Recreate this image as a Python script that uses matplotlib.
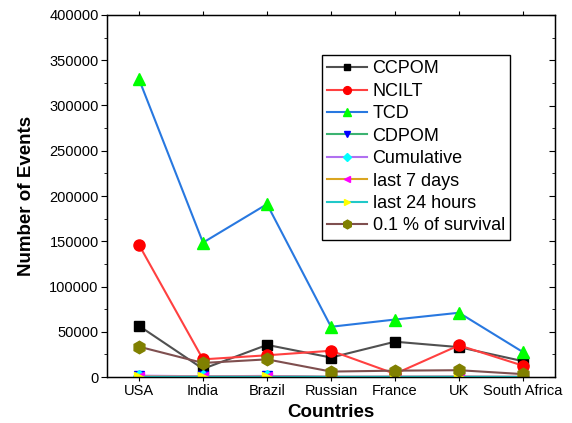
import matplotlib.pyplot as plt
from matplotlib.ticker import MultipleLocator

plt.rcParams['font.family'] = ['Liberation Sans', 'DejaVu Sans']

countries = ['USA', 'India', 'Brazil', 'Russian', 'France', 'UK', 'South Africa']

ccpom = [56500, 9000, 35500, 21500, 39000, 33000, 17500]
ncilt = [146000, 19500, 24000, 29000, 3500, 35000, 12500]
tcd = [329000, 148500, 191000, 55500, 63500, 71000, 27500]
cdpom = [1000, 600, 900, 200, 300, 400, 100]
cumulative = [1500, 800, 1200, 300, 400, 500, 150]
last_7_days = [500, 300, 400, 100, 100, 150, 50]
last_24_hours = [80, 50, 60, 20, 20, 25, 10]
survival = [33500, 15500, 19500, 6000, 7000, 7500, 3200]

x = list(range(len(countries)))

fig = plt.figure(figsize=(5.72, 4.23), dpi=100)
ax = fig.add_axes([107 / 572, 46 / 423, 448 / 572, 362 / 423])

ms = 7
ax.plot(x, ccpom, color='#505050', marker='s', mfc='black', mec='black', ms=ms, label='CCPOM')
ax.plot(x, ncilt, color='#ff4040', marker='o', mfc='red', mec='red', ms=ms + 1, label='NCILT')
ax.plot(x, tcd, color='#2878e0', marker='^', mfc='#00ff00', mec='#00ff00', ms=ms + 1, label='TCD')
ax.plot(x, cdpom, color='#3cb371', marker='v', mfc='blue', mec='blue', ms=ms, label='CDPOM')
ax.plot(x, cumulative, color='#b070f0', marker='D', mfc='cyan', mec='cyan', ms=ms - 1, label='Cumulative')
ax.plot(x, last_7_days, color='#daa520', marker='<', mfc='magenta', mec='magenta', ms=ms, label='last 7 days')
ax.plot(x, last_24_hours, color='#20c8c8', marker='>', mfc='yellow', mec='yellow', ms=ms, label='last 24 hours')
ax.plot(x, survival, color='#7f4f4f', marker='h', mfc='#808000', mec='#808000', ms=ms + 2, label='0.1 % of survival')

ax.set_xlim(-0.5, 6.5)
ax.set_ylim(0, 400000)
ax.set_xticks(x)
ax.set_xticklabels(countries)
ax.yaxis.set_major_locator(MultipleLocator(50000))
ax.yaxis.set_minor_locator(MultipleLocator(25000))

ax.tick_params(axis='both', labelsize=10.5, pad=2)
ax.tick_params(axis='y', which='major', direction='out', length=4)
ax.tick_params(axis='y', which='minor', direction='out', length=2)
ax.tick_params(axis='x', which='major', direction='out', length=3, top=True)

# right side ticks point inward like the original
right = ax.twinx()
right.set_ylim(ax.get_ylim())
right.yaxis.set_major_locator(MultipleLocator(50000))
right.yaxis.set_minor_locator(MultipleLocator(25000))
right.tick_params(axis='y', which='major', direction='in', length=4, labelright=False)
right.tick_params(axis='y', which='minor', direction='in', length=2)

for s in ax.spines.values():
    s.set_linewidth(1.0)

ax.set_xlabel('Countries', fontsize=13.5, fontweight='bold', labelpad=4)
ax.set_ylabel('Number of Events', fontsize=13.5, fontweight='bold', labelpad=10)

leg = ax.legend(loc='upper left', bbox_to_anchor=(215 / 448, 1 - 40 / 362), fontsize=13,
                frameon=True, fancybox=False, edgecolor='black', framealpha=1,
                handlelength=2.2, handletextpad=0.3, labelspacing=0.3, borderpad=0.3,
                borderaxespad=0, markerscale=0.7)
leg.get_frame().set_linewidth(1.0)
leg.set_zorder(10)
ax.set_zorder(right.get_zorder() + 1)
ax.patch.set_visible(False)

fig.savefig('out.png', dpi=100)
